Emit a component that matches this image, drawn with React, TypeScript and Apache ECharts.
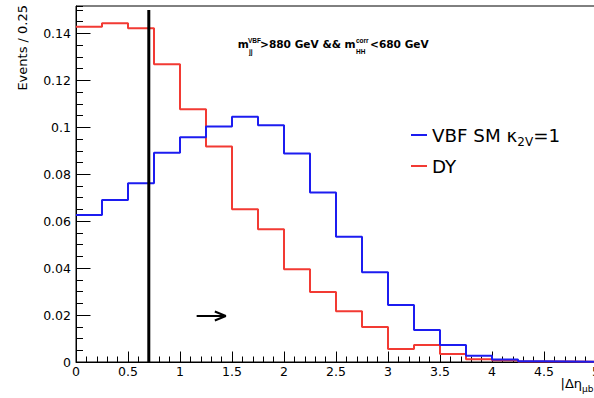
import React, { useEffect, useRef } from "react";
import * as echarts from "echarts";

// ---- data ----
const binEdges = [0, 0.25, 0.5, 0.75, 1, 1.25, 1.5, 1.75, 2, 2.25, 2.5, 2.75, 3, 3.25, 3.5, 3.75, 4, 4.25, 4.5, 4.75, 5];
const dyValues = [0.1429, 0.1443, 0.1422, 0.1269, 0.1077, 0.0918, 0.0651, 0.0566, 0.0395, 0.0298, 0.0216, 0.0149, 0.0055, 0.0072, 0.0034, 0.0012, 0.0007, 0.0002, 0.0002, 0.0001];
const vbfValues = [0.0626, 0.069, 0.0762, 0.0892, 0.0958, 0.1003, 0.1045, 0.1009, 0.0889, 0.0722, 0.0534, 0.0382, 0.0243, 0.0136, 0.0072, 0.0027, 0.0011, 0.0003, 0.0002, 0.0001];
const cutLine = [[0.7, 0], [0.7, 0.15]];
const arrowPath = [[1.16, 0.0196], [1.44, 0.0196], [1.335, 0.0215], [1.44, 0.0196], [1.335, 0.0177]];

const vbfName = "VBF SM κ2V=1";
const dyName = "DY";
const yAxisTitle = "Events / 0.25";

const X_MIN = 0;
const X_MAX = 5;
const Y_MIN = 0;
const Y_MAX = 0.1517;

const FONT = "DejaVu Sans";
const RED = "#f23a33";
const BLUE = "#1c1cf0";

function stepData(values: number[]) {
  return binEdges.map((x, i) => [x, values[Math.min(i, values.length - 1)]]);
}

export default function App() {
  const ref = useRef<HTMLDivElement>(null);
  useEffect(() => {
    if (!ref.current) return;
    const chart = echarts.init(ref.current, undefined, { renderer: "svg" });
    const bold = (size: number, fam = FONT) => ({ fontFamily: fam, fontWeight: "bold" as const, fontSize: size, fill: "#000" });
    chart.setOption({
      animation: false,
      backgroundColor: "#fff",
      grid: {
        left: 76,
        top: 6,
        width: 520,
        height: 356,
        show: true,
        borderColor: "#000",
        borderWidth: 1,
        backgroundColor: "transparent",
        containLabel: false,
        outerBoundsMode: "none",
      },
      xAxis: {
        type: "value",
        min: X_MIN,
        max: X_MAX,
        interval: 0.5,
        axisLine: { onZero: false, lineStyle: { color: "#000", width: 1 } },
        axisTick: { inside: true, length: 10.5, lineStyle: { color: "#000" } },
        minorTick: { show: true, splitNumber: 5, length: 5.5, lineStyle: { color: "#000" } },
        axisLabel: { color: "#000", fontFamily: FONT, fontSize: 12.5, margin: 3 },
        splitLine: { show: false },
      },
      yAxis: [
        {
          type: "value",
          min: Y_MIN,
          max: Y_MAX,
          interval: 0.02,
          position: "left",
          axisLine: { show: true, onZero: false, lineStyle: { color: "#000", width: 1 } },
          axisTick: { show: true, inside: true, length: 14.5, lineStyle: { color: "#000" } },
          axisLabel: { color: "#000", fontFamily: FONT, fontSize: 12.5, margin: 5, showMaxLabel: false },
          splitLine: { show: false },
        },
        {
          type: "value",
          min: Y_MIN,
          max: Y_MAX,
          interval: 0.005,
          position: "left",
          axisLine: { show: false },
          axisTick: { show: true, inside: true, length: 7, lineStyle: { color: "#000" } },
          axisLabel: { show: false },
          splitLine: { show: false },
        },
      ],
      legend: {
        data: [vbfName, dyName],
        orient: "vertical",
        left: 406,
        top: 121,
        itemWidth: 16,
        itemHeight: 2,
        itemGap: 9,
        icon: "rect",
        selectedMode: false,
        formatter: (name: string) => (name === vbfName ? "{a|VBF SM κ}{s|2V}{a|=1}" : "{a|DY}"),
        textStyle: {
          color: "#000",
          fontFamily: FONT,
          fontSize: 18.3,
          rich: {
            a: { fontFamily: FONT, fontSize: 18.3, lineHeight: 26, color: "#000" },
            s: { fontFamily: FONT, fontSize: 12, lineHeight: 26, verticalAlign: "bottom", color: "#000" },
          },
        },
      },
      graphic: [
        { type: "text", x: 22.5, y: 5, rotation: Math.PI / 2, style: { text: yAxisTitle, fontFamily: FONT, fontSize: 13, fill: "#000", align: "right", verticalAlign: "middle" } },
        { type: "text", x: 560.5, y: 383, style: { text: "|Δη", fontFamily: FONT, fontSize: 13, fill: "#000", align: "left", verticalAlign: "middle" } },
        { type: "text", x: 582, y: 389, style: { text: "μb", fontFamily: FONT, fontSize: 9, fill: "#000", align: "left", verticalAlign: "middle" } },
        { type: "text", x: 237.7, y: 43.7, style: { text: "m", ...bold(10.6), align: "left", verticalAlign: "middle" } },
        { type: "text", x: 248, y: 40, style: { text: "VBF", ...bold(6.5, "Liberation Sans"), align: "left", verticalAlign: "middle" } },
        { type: "text", x: 249, y: 51.6, style: { text: "jj", ...bold(6.5, "Liberation Sans"), align: "left", verticalAlign: "middle" } },
        { type: "text", x: 260, y: 43.7, style: { text: ">880 GeV && m", ...bold(10.6), align: "left", verticalAlign: "middle" } },
        { type: "text", x: 356, y: 40, style: { text: "corr", ...bold(6.5, "Liberation Sans"), align: "left", verticalAlign: "middle" } },
        { type: "text", x: 356, y: 51.6, style: { text: "HH", ...bold(6.5, "Liberation Sans"), align: "left", verticalAlign: "middle" } },
        { type: "text", x: 370, y: 43.7, style: { text: "<680 GeV", ...bold(10.6), align: "left", verticalAlign: "middle" } },
      ],
      series: [
        {
          name: dyName,
          type: "line",
          step: "end",
          data: stepData(dyValues),
          showSymbol: false,
          symbol: "none",
          color: RED,
          lineStyle: { color: RED, width: 2 },
          z: 3,
        },
        {
          name: vbfName,
          type: "line",
          step: "end",
          data: stepData(vbfValues),
          showSymbol: false,
          symbol: "none",
          color: BLUE,
          lineStyle: { color: BLUE, width: 2 },
          z: 4,
        },
        {
          name: "cut",
          type: "line",
          data: cutLine,
          symbol: "none",
          color: "#000",
          lineStyle: { color: "#000", width: 3 },
          z: 5,
        },
        {
          name: "arrow",
          type: "line",
          data: arrowPath,
          symbol: "none",
          color: "#000",
          lineStyle: { color: "#000", width: 2 },
          z: 5,
        },
      ],
    });
    return () => chart.dispose();
  }, []);
  return <div ref={ref} style={{ position: "fixed", left: 0, top: 0, width: 594, height: 398 }} />;
}
